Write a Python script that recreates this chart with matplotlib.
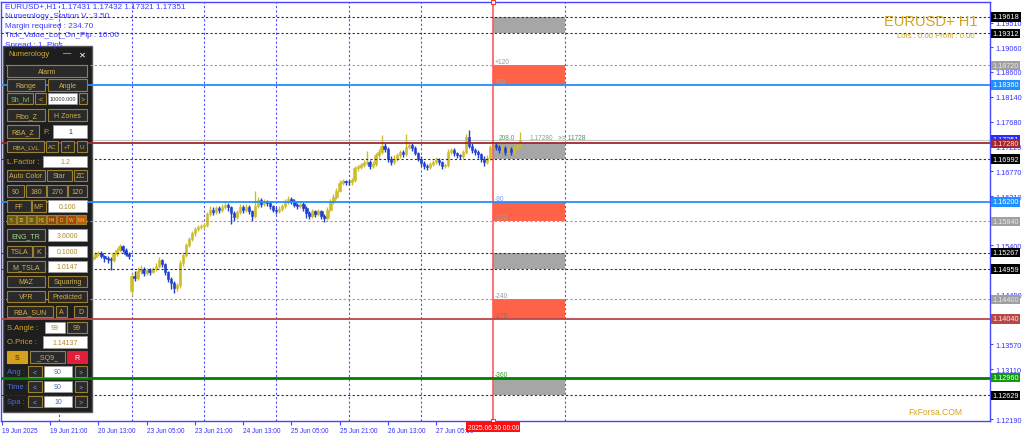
import matplotlib
matplotlib.use('Agg')
import matplotlib.pyplot as plt
from matplotlib.patches import Rectangle
from matplotlib.transforms import blended_transform_factory
import numpy as np

plt.rcParams['font.family'] = ['Liberation Sans', 'DejaVu Sans']

# ---------------- DATA ----------------
FIRST_BAR = 30          # bar index of first listed candle (bars counted from 19 Jun 05:00)
opens = [1.1514, 1.1518, 1.1524, 1.1526, 1.1520, 1.1516, 1.1514, 1.1512, 1.1524, 1.1531,
         1.1538, 1.1532, 1.1524, 1.1455, 1.1484, 1.1480, 1.1492, 1.1497, 1.1489, 1.1494,
         1.1491, 1.1496, 1.1502, 1.1512, 1.1505, 1.1490, 1.1478, 1.1470, 1.1462, 1.1466,
         1.1508, 1.1522, 1.1540, 1.1552, 1.1562, 1.1570, 1.1574, 1.1576, 1.1577, 1.1598,
         1.1606, 1.1602, 1.1609, 1.1605, 1.1611, 1.1614, 1.1610, 1.1600, 1.1592, 1.1601,
         1.1610, 1.1606, 1.1611, 1.1603, 1.1594, 1.1612, 1.1623, 1.1616, 1.1620, 1.1618,
         1.1612, 1.1606, 1.1603, 1.1607, 1.1612, 1.1620, 1.1626, 1.1622, 1.1614, 1.1612,
         1.1617, 1.1609, 1.1600, 1.1595, 1.1603, 1.1598, 1.1603, 1.1595, 1.1590, 1.1606,
         1.1620, 1.1630, 1.1641, 1.1655, 1.1658, 1.1657, 1.1656, 1.1660, 1.1682, 1.1684,
         1.1688, 1.1692, 1.1694, 1.1686, 1.1690, 1.1706, 1.1712, 1.1723, 1.1718, 1.1700,
         1.1694, 1.1700, 1.1706, 1.1712, 1.1708, 1.1722, 1.1725, 1.1720, 1.1710, 1.1700,
         1.1692, 1.1686, 1.1684, 1.1690, 1.1694, 1.1698, 1.1693, 1.1686, 1.1688, 1.1712,
         1.1716, 1.1710, 1.1706, 1.1704, 1.1712, 1.1740, 1.1724, 1.1716, 1.1712, 1.1708,
         1.1700, 1.1694, 1.1702, 1.1722, 1.1726, 1.1722, 1.1716, 1.1720, 1.1713, 1.1718,
         1.1712, 1.1720, 1.1726]
highs = [1.1522, 1.1528, 1.1530, 1.1529, 1.1523, 1.1520, 1.1518, 1.1527, 1.1535, 1.1543,
         1.1541, 1.1535, 1.1527, 1.1488, 1.1492, 1.1500, 1.1503, 1.1500, 1.1499, 1.1498,
         1.1500, 1.1507, 1.1519, 1.1515, 1.1508, 1.1493, 1.1482, 1.1474, 1.1471, 1.1512,
         1.1528, 1.1545, 1.1556, 1.1566, 1.1574, 1.1578, 1.1580, 1.1582, 1.1602, 1.1612,
         1.1610, 1.1613, 1.1612, 1.1616, 1.1622, 1.1618, 1.1613, 1.1604, 1.1606, 1.1616,
         1.1614, 1.1616, 1.1614, 1.1606, 1.1641, 1.1630, 1.1627, 1.1626, 1.1624, 1.1621,
         1.1615, 1.1610, 1.1612, 1.1616, 1.1625, 1.1631, 1.1630, 1.1625, 1.1618, 1.1621,
         1.1620, 1.1612, 1.1604, 1.1607, 1.1606, 1.1607, 1.1605, 1.1598, 1.1610, 1.1625,
         1.1635, 1.1646, 1.1660, 1.1662, 1.1661, 1.1660, 1.1664, 1.1686, 1.1689, 1.1692,
         1.1698, 1.1715, 1.1698, 1.1695, 1.1710, 1.1718, 1.1744, 1.1728, 1.1722, 1.1704,
         1.1706, 1.1710, 1.1716, 1.1716, 1.1745, 1.1730, 1.1728, 1.1723, 1.1713, 1.1704,
         1.1696, 1.1690, 1.1694, 1.1698, 1.1703, 1.1701, 1.1696, 1.1692, 1.1718, 1.1720,
         1.1719, 1.1713, 1.1709, 1.1716, 1.1746, 1.1752, 1.1728, 1.1720, 1.1716, 1.1711,
         1.1704, 1.1706, 1.1726, 1.1730, 1.1730, 1.1726, 1.1725, 1.1723, 1.1722, 1.1721,
         1.1724, 1.1731, 1.1750]
lows = [1.1510, 1.1515, 1.1520, 1.1516, 1.1510, 1.1508, 1.1495, 1.1509, 1.1521, 1.1528,
        1.1528, 1.1520, 1.1515, 1.1447, 1.1474, 1.1476, 1.1487, 1.1484, 1.1485, 1.1486,
        1.1488, 1.1493, 1.1499, 1.1500, 1.1485, 1.1472, 1.1460, 1.1452, 1.1455, 1.1462,
        1.1502, 1.1518, 1.1536, 1.1548, 1.1558, 1.1566, 1.1570, 1.1571, 1.1574, 1.1594,
        1.1596, 1.1598, 1.1600, 1.1602, 1.1607, 1.1604, 1.1580, 1.1585, 1.1588, 1.1597,
        1.1600, 1.1602, 1.1598, 1.1584, 1.1590, 1.1608, 1.1611, 1.1612, 1.1613, 1.1607,
        1.1601, 1.1598, 1.1599, 1.1603, 1.1608, 1.1616, 1.1617, 1.1610, 1.1607, 1.1608,
        1.1604, 1.1590, 1.1588, 1.1591, 1.1592, 1.1594, 1.1589, 1.1583, 1.1587, 1.1603,
        1.1616, 1.1626, 1.1638, 1.1651, 1.1652, 1.1651, 1.1652, 1.1657, 1.1678, 1.1680,
        1.1684, 1.1688, 1.1680, 1.1682, 1.1687, 1.1702, 1.1708, 1.1712, 1.1694, 1.1688,
        1.1690, 1.1696, 1.1702, 1.1703, 1.1705, 1.1718, 1.1715, 1.1706, 1.1695, 1.1686,
        1.1680, 1.1679, 1.1680, 1.1686, 1.1690, 1.1688, 1.1681, 1.1682, 1.1685, 1.1708,
        1.1705, 1.1701, 1.1699, 1.1700, 1.1708, 1.1720, 1.1711, 1.1707, 1.1702, 1.1694,
        1.1686, 1.1690, 1.1698, 1.1718, 1.1716, 1.1710, 1.1712, 1.1707, 1.1709, 1.1706,
        1.1708, 1.1716, 1.1722]
closes = [1.1518, 1.1524, 1.1526, 1.1520, 1.1516, 1.1514, 1.1512, 1.1524, 1.1531, 1.1538,
          1.1532, 1.1524, 1.1520, 1.1484, 1.1480, 1.1492, 1.1497, 1.1489, 1.1494, 1.1491,
          1.1496, 1.1502, 1.1512, 1.1505, 1.1490, 1.1478, 1.1470, 1.1462, 1.1466, 1.1508,
          1.1522, 1.1540, 1.1552, 1.1562, 1.1570, 1.1574, 1.1576, 1.1577, 1.1598, 1.1606,
          1.1602, 1.1609, 1.1605, 1.1611, 1.1614, 1.1610, 1.1600, 1.1592, 1.1601, 1.1610,
          1.1606, 1.1611, 1.1603, 1.1594, 1.1612, 1.1623, 1.1616, 1.1620, 1.1618, 1.1612,
          1.1606, 1.1603, 1.1607, 1.1612, 1.1620, 1.1626, 1.1622, 1.1614, 1.1612, 1.1617,
          1.1609, 1.1600, 1.1595, 1.1603, 1.1598, 1.1603, 1.1595, 1.1590, 1.1606, 1.1620,
          1.1630, 1.1641, 1.1655, 1.1658, 1.1657, 1.1656, 1.1660, 1.1682, 1.1684, 1.1688,
          1.1692, 1.1694, 1.1686, 1.1690, 1.1706, 1.1712, 1.1723, 1.1718, 1.1700, 1.1694,
          1.1700, 1.1706, 1.1712, 1.1708, 1.1722, 1.1725, 1.1720, 1.1710, 1.1700, 1.1692,
          1.1686, 1.1684, 1.1690, 1.1694, 1.1698, 1.1693, 1.1686, 1.1688, 1.1712, 1.1716,
          1.1710, 1.1706, 1.1704, 1.1712, 1.1740, 1.1724, 1.1716, 1.1712, 1.1708, 1.1700,
          1.1694, 1.1702, 1.1722, 1.1726, 1.1722, 1.1716, 1.1720, 1.1713, 1.1718, 1.1712,
          1.1720, 1.1726, 1.1735]

xtick_bars = [0, 16, 32, 48, 64, 80, 96, 112, 128, 144]
xtick_labels = ["19 Jun 2025", "19 Jun 21:00", "20 Jun 13:00", "23 Jun 05:00", "23 Jun 21:00",
                "24 Jun 13:00", "25 Jun 05:00", "25 Jun 21:00", "26 Jun 13:00", "27 Jun 05:00"]
day_bars = [19, 43, 67, 91, 115, 139, 187]
marker_bar = 163
marker_label = "2025.06.30 00:00"

# visible price-scale ticks (the ones fully covered by level labels are left out)
ytick_prices = [1.19510, 1.19060, 1.18600, 1.18140, 1.17680, 1.17220, 1.16770, 1.16310,
                1.15400, 1.14490, 1.13570, 1.13110, 1.12190]

level_prices = [1.19618, 1.19312, 1.18720, 1.18360, 1.17280, 1.16992, 1.16200,
                1.15840, 1.15267, 1.14959, 1.14400, 1.14040, 1.12960, 1.12629]
level_kinds = ['black', 'black', 'gray', 'blue', 'darkred', 'black', 'blue',
               'gray', 'black', 'black', 'gray', 'red', 'green', 'black']

zone_tops = [1.19618, 1.18720, 1.17280, 1.16200, 1.15267, 1.14400, 1.12960]
zone_bottoms = [1.19312, 1.18360, 1.16992, 1.15840, 1.14959, 1.14040, 1.12629]
zone_kinds = ['gray', 'red', 'gray', 'red', 'gray', 'red', 'gray']
zone_start, zone_end = 163, 187

zone_label_texts = ["+120", "+90", "-90", "-120", "-240", "-270", "-360"]
zone_label_prices = [1.18720, 1.18360, 1.16200, 1.15840, 1.14400, 1.14040, 1.12960]
zone_label_colors = ['#9a9a9a', '#a0a0a0', '#6aa0ff', '#a0a0a0', '#9a9a9a', '#8a6a6a', '#3a9a3a']

bid_price = 1.17351
y_range = (1.12157, 1.19892)
x_range = (-0.35, 327.9)

# ---------------- STYLES ----------------
line_style = {
    'black':   dict(color='#303030', lw=0.8, ls=(0, (2, 2))),
    'gray':    dict(color='#9a9a9a', lw=0.8, ls=(0, (2, 2))),
    'blue':    dict(color='#1e90ff', lw=1.3, ls='-'),
    'darkred': dict(color='#a0282c', lw=1.3, ls='-'),
    'red':     dict(color='#b84848', lw=1.3, ls='-'),
    'green':   dict(color='#008000', lw=2.0, ls='-'),
}
label_style = {
    'black':   ('#000000', '#ffffff'),
    'gray':    ('#a0a0a0', '#e8e8e8'),
    'blue':    ('#1e90ff', '#ffffff'),
    'darkred': ('#a0282c', '#ffe0e0'),
    'red':     ('#b84848', '#ffe0e0'),
    'green':   ('#119911', '#ffffff'),
}
AXIS_BLUE = '#4646ff'
TXT_BLUE = '#3030ff'
BULL = '#cdbd2c'
BEAR = '#1f3fd0'
GOLD = '#d4a520'

W, H = 1024, 439
fig = plt.figure(figsize=(W / 100, H / 100), dpi=100)
fig.patch.set_facecolor('white')

AX_L, AX_R, AX_T, AX_B = 1, 990, 3, 422
ax = fig.add_axes([AX_L / W, 1 - AX_B / H, (AX_R - AX_L) / W, (AX_B - AX_T) / H])
ov = fig.add_axes([0, 0, 1, 1])
ov.set_xlim(0, W)
ov.set_ylim(H, 0)
ov.axis('off')
ov.patch.set_alpha(0)

ax.set_xlim(*x_range)
ax.set_ylim(*y_range)
ax.set_facecolor('white')
for s in ax.spines.values():
    s.set_color(AXIS_BLUE)
    s.set_linewidth(1)

# day separators
for b in day_bars:
    ax.axvline(b, color='#5050ff', lw=0.8, ls=(0, (2, 2)), zorder=1)

# zones
for t, bt, k in zip(zone_tops, zone_bottoms, zone_kinds):
    fc = '#a6a6a6' if k == 'gray' else '#ff6347'
    ax.add_patch(Rectangle((zone_start, bt), zone_end - zone_start, t - bt,
                           fc=fc, ec='none', zorder=1.5))

# candles
xs = np.arange(FIRST_BAR, FIRST_BAR + len(closes))
o = np.array(opens); c = np.array(closes); h = np.array(highs); l = np.array(lows)
cols = [BULL if cc >= oo else BEAR for oo, cc in zip(o, c)]
ax.vlines(xs, l, h, colors=cols, lw=1.0, zorder=2)
ax.bar(xs, np.maximum(np.abs(c - o), 0.00006), bottom=np.minimum(o, c), width=0.8,
       color=cols, edgecolor=cols, lw=0.4, zorder=2.1)

# bid line
ax.axhline(bid_price, color='#c8c8c8', lw=0.8, zorder=1.2)

# red marker line
ax.axvline(marker_bar, color='#ff5a5a', lw=1.2, zorder=3.5)
ax.plot([marker_bar, marker_bar], [y_range[1], y_range[0]], ls='none', marker='s', ms=3,
        mfc='white', mec='#ff3030', mew=0.8, clip_on=False, zorder=6)

# panel background (pixel coords, drawn under levels)
ax.add_patch(Rectangle((3, 47), 89, 366, transform=ov.transData, fc='#1e1e1e',
                       ec='#585858', lw=1, zorder=3, clip_on=False))

# levels
for p, k in zip(level_prices, level_kinds):
    st = line_style[k]
    ax.axhline(p, color=st['color'], lw=st['lw'], ls=st['ls'], zorder=4)

# zone labels
for t, p, col in zip(zone_label_texts, zone_label_prices, zone_label_colors):
    ax.text(zone_start + 0.4, p, t, color=col, fontsize=4.8, ha='left', va='bottom', zorder=5)

# near-price texts
ax.text(165.0, 1.17320, "208.0", color='#5aa05a', fontsize=4.8, ha='left', va='bottom', zorder=5)
ax.text(175.0, 1.17320, "1.17280", color='#88a888', fontsize=4.8, ha='left', va='bottom', zorder=5)
ax.text(184.5, 1.17320, ">> 11728", color='#4a9a4a', fontsize=4.8, ha='left', va='bottom', zorder=5)

# right price axis
ax.yaxis.tick_right()
ax.set_yticks(ytick_prices)
ax.set_yticklabels([f"{p:.5f}" for p in ytick_prices])
ax.tick_params(axis='y', colors=AXIS_BLUE, labelcolor=TXT_BLUE, labelsize=5.2, length=2.5,
               width=0.8, pad=1.5)
# bottom time axis
ax.set_xticks(xtick_bars)
ax.set_xticklabels(xtick_labels, ha='left')
ax.tick_params(axis='x', colors=AXIS_BLUE, labelcolor=TXT_BLUE, labelsize=4.7, length=3,
               width=0.8, pad=1.5)

ytr = blended_transform_factory(ax.transAxes, ax.transData)
ax.text(1.0025, bid_price, f"{bid_price:.5f}", transform=ytr, fontsize=5.2, color='white',
        ha='left', va='center', zorder=7, clip_on=False,
        bbox=dict(boxstyle='square,pad=0.18', fc='#2a2aff', ec='none'))
for p, k in zip(level_prices, level_kinds):
    fc, tc = label_style[k]
    ax.text(1.0025, p, f"{p:.5f}", transform=ytr, fontsize=5.2, color=tc, ha='left',
            va='center', zorder=8, clip_on=False,
            bbox=dict(boxstyle='square,pad=0.18', fc=fc, ec='none'))

xtr = blended_transform_factory(ax.transData, ax.transAxes)
ax.text(marker_bar, -0.006, marker_label, transform=xtr, fontsize=4.8, color='white',
        ha='center', va='top', zorder=8, clip_on=False,
        bbox=dict(boxstyle='square,pad=0.2', fc='#ff1010', ec='none'))

# ---------------- overlay texts ----------------
info = ["EURUSD+,H1  1.17431 1.17432 1.17321 1.17351",
        "Numerology_Station V : 3.50",
        "Margin required : 234.70",
        "Tick_Value_Lot_On_Pip : 10.00",
        "Spread : 1  Pips"]
for k, t in enumerate(info):
    ov.text(5, 7 + k * 9.6, t, color='#3a3aff', fontsize=5.9, ha='left', va='center')

ov.text(978, 22, "EURUSD+ H1", color=GOLD, fontsize=10.5, ha='right', va='center')
ov.text(975, 36, "Lots : 0.00 Profit : 0.00", color=GOLD, fontsize=5.6, ha='right', va='center')
ov.text(962, 413, "FxForsa.COM", color=GOLD, fontsize=6.2, ha='right', va='center')

# ---------------- panel ----------------
BTN_FC = '#2a2a2a'
BTN_EC = '#9a8232'
BTN_TC = '#d2b04c'


def button(x0, y0, x1, y1, text, fc=BTN_FC, ec=BTN_EC, tc=BTN_TC, fs=5.0):
    ov.add_patch(Rectangle((x0, y0), x1 - x0, y1 - y0, fc=fc, ec=ec, lw=0.8))
    ov.text((x0 + x1) / 2, (y0 + y1) / 2 + 0.3, text, ha='center', va='center', color=tc,
            fontsize=fs)


def ebox(x0, y0, x1, y1, text, tc='#b08a28', fs=5.0):
    ov.add_patch(Rectangle((x0, y0), x1 - x0, y1 - y0, fc='white', ec='#9a9a9a', lw=0.6))
    ov.text((x0 + x1) / 2, (y0 + y1) / 2 + 0.3, text, ha='center', va='center', color=tc,
            fontsize=fs)


def label(x, y, text, tc=GOLD, fs=5.5):
    ov.text(x, y, text, ha='left', va='center', color=tc, fontsize=fs)


label(8, 55, "Numerology", tc='#d0a838', fs=5.5)
ov.text(67, 54, "—", ha='center', va='center', color='white', fontsize=6)
ov.text(82, 55, "✕", ha='center', va='center', color='white', fontsize=6,
        family=['DejaVu Sans'])

button(7, 66, 87, 78, "Alarm")
button(7, 80, 45, 92, "Range"); button(48, 80, 87, 92, "Angle")
button(7, 94, 33, 105, "Sh_lvl", tc='#7acc5a'); button(35, 94, 46, 105, "<")
ebox(48, 94, 77, 105, "10000.000", tc='#333333', fs=4.0); button(79, 94, 87, 105, ">")
button(7, 110, 45, 122, "Fibo_Z"); button(48, 110, 87, 122, "H Zones")
button(7, 126, 39, 139, "RBA_Z"); label(43, 132.5, "F:", fs=5.5)
ebox(53, 126, 87, 139, "1", tc='#333333')
button(7, 142, 44, 153, "RBA_LVL", fs=4.5); button(46, 142, 58, 153, "AC", fs=4.5)
button(61, 142, 74, 153, "+T", fs=4.5); button(77, 142, 87, 153, "U", fs=4.5)
label(7, 162.5, "L.Factor :")
ebox(43, 157, 87, 168, "1.2")
button(7, 171, 45, 182, "Auto Color"); button(47, 171, 72, 182, "Star"); button(74, 171, 87, 182, "ZC")
button(7, 186, 24, 198, "90"); button(26, 186, 46, 198, "180")
button(47, 186, 67, 198, "270"); button(68, 186, 87, 198, "120")
button(7, 201, 31, 213, "FF"); button(32, 201, 46, 213, "MF"); ebox(48, 201, 87, 213, "0.100")
tf_labels = ["5", "15", "30", "H1", "H4", "D", "W", "MN"]
tf_fc = ['#6a5a12', '#6a5a12', '#6a5a12', '#7a5a10', '#8a4a0a', '#9a4a08', '#a84a06', '#c05a08']
for k, (t, fc) in enumerate(zip(tf_labels, tf_fc)):
    x0 = 7 + k * 10
    button(x0, 216, x0 + 9, 225, t, fc=fc, ec='#a08030', tc='#e8c860', fs=3.5)
button(7, 230, 45, 242, "ENG_TR", tc='#a8d890'); ebox(48, 230, 87, 242, "3.6000")
button(7, 247, 32, 258, "TSLA"); button(33, 247, 45, 258, "K"); ebox(48, 247, 87, 258, "0.1000")
button(7, 262, 45, 273, "M_TSLA"); ebox(48, 262, 87, 273, "1.0147")
button(7, 277, 45, 288, "MAZ"); button(48, 277, 87, 288, "Squaring")
button(7, 292, 45, 303, "VPR"); button(48, 292, 87, 303, "Predicted")
button(7, 307, 53, 318, "RBA_SUN"); button(56, 307, 67, 318, "A"); button(74, 307, 87, 318, "D")
label(7, 328.5, "S.Angle :"); ebox(45, 323, 65, 334, "99"); button(67, 323, 87, 334, "99")
label(7, 343, "O.Price :"); ebox(43, 337, 87, 349, "1.14137")
button(7, 352, 27, 364, "S", fc='#d4a020', ec='#d4a020', tc='#3a2a00')
button(30, 352, 65, 364, "_SQ9_")
button(67, 352, 87, 364, "R", fc='#e0203a', ec='#e0203a', tc='white')
for yy, name, val in [(367, "Ang :", "90"), (382, "Time :", "90"), (397, "Spa :", "10")]:
    label(7, yy + 5.5, name, tc='#4a70e0', fs=5.5)
    button(28, yy, 42, yy + 11, "<", tc='#8aa0e0')
    ebox(44, yy, 72, yy + 11, val, tc='#4a6aa0')
    button(75, yy, 87, yy + 11, ">", tc='#8aa0e0')

fig.savefig('out.png', dpi=100)
